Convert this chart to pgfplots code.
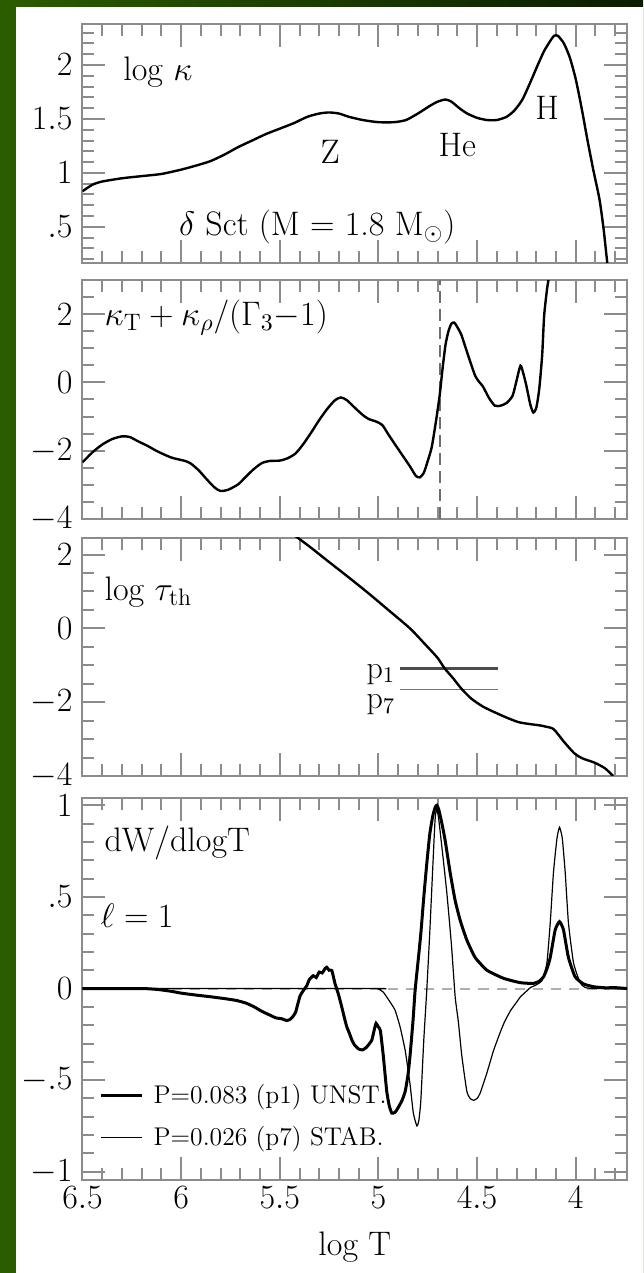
\RequirePackage{fix-cm}
\documentclass[border=0pt]{standalone}
\usepackage{fontspec}
\usepackage{pgfplots}
\pgfplotsset{compat=1.18}

\definecolor{bggreen}{RGB}{44,92,0}
\definecolor{bgdark}{RGB}{10,28,0}
\definecolor{framegray}{RGB}{140,140,140}
\definecolor{dashgray}{RGB}{175,175,175}
\definecolor{vdash}{RGB}{110,110,110}

\newcommand{\lblfont}{\fontsize{17}{20}\selectfont}
\newcommand{\plblfont}{\fontsize{16}{18}\selectfont}
\newcommand{\legfont}{\fontsize{12.8}{15}\selectfont}

\pgfplotsset{
  panel/.style={
    scale only axis,
    anchor=south west,
    width=272.25pt,
    x dir=reverse,
    xmin=3.74, xmax=6.5,
    xtick={4,4.5,5,5.5,6,6.5},
    minor xtick={3.8,3.9,4.1,4.2,4.3,4.4,4.6,4.7,4.8,4.9,5.1,5.2,5.3,5.4,5.6,5.7,5.8,5.9,6.1,6.2,6.3,6.4},
    tick align=inside,
    major tick length=11.5pt,
    minor tick length=6pt,
    axis line style={framegray, line width=1pt},
    tick style={framegray, line width=1pt},
    tick label style={font=\lblfont, black},
    yticklabel style={xshift=-1.5pt},
  },
  curve/.style={black, line width=1.2pt, smooth, tension=0.4},
}

\begin{document}
\begin{tikzpicture}
% page background and frame
\shade[left color=bggreen, right color=bgdark] (0,0) rectangle (321.5pt,636.5pt);
\fill[bggreen] (0,0) rectangle (8pt,636.5pt);
\fill[white] (8pt,0) rectangle (321.5pt,633pt);

% ---------------- opacity: log kappa ----------------
\begin{axis}[panel, at={(41.25pt,505pt)}, height=119.5pt,
  ymin=0.165, ymax=2.38,
  xticklabels={},
  ytick={0.5,1,1.5,2}, yticklabels={$.5$,$1$,$1.5$,$2$},
  minor ytick={0.2,0.3,0.4,0.6,0.7,0.8,0.9,1.1,1.2,1.3,1.4,1.6,1.7,1.8,1.9,2.1,2.2,2.3}]
\addplot[curve] coordinates {
(6.50,0.83) (6.45,0.89) (6.40,0.92) (6.30,0.95) (6.20,0.97) (6.10,0.99)
(6.00,1.03) (5.92,1.07) (5.85,1.11) (5.78,1.17) (5.71,1.24) (5.64,1.30)
(5.57,1.36) (5.50,1.41) (5.43,1.46) (5.36,1.52) (5.30,1.55) (5.25,1.56)
(5.20,1.55) (5.15,1.52) (5.08,1.49) (5.00,1.47) (4.92,1.47) (4.86,1.49)
(4.80,1.55) (4.74,1.62) (4.70,1.66) (4.66,1.68) (4.63,1.66) (4.59,1.60)
(4.55,1.55) (4.50,1.51) (4.45,1.49) (4.40,1.49) (4.35,1.52) (4.31,1.58)
(4.27,1.68) (4.23,1.84) (4.19,2.01) (4.16,2.13) (4.13,2.22) (4.11,2.27)
(4.09,2.27) (4.06,2.20) (4.03,2.07) (4.00,1.87) (3.97,1.60) (3.94,1.30)
(3.91,1.02) (3.88,0.76) (3.86,0.50) (3.845,0.25) (3.835,0.08)
};
\node[font=\lblfont, anchor=west, inner sep=0pt] at (axis cs:6.295,1.935) {log $\kappa$};
\node[font=\lblfont] at (axis cs:5.245,1.195) {Z};
\node[font=\lblfont] at (axis cs:4.60,1.26) {He};
\node[font=\lblfont] at (axis cs:4.145,1.60) {H};
\node[font=\lblfont] at (axis cs:5.31,0.50) {$\delta$ Sct (M = 1.8 M$_\odot$)};
\end{axis}

% ---------------- opacity derivative ----------------
\begin{axis}[panel, at={(41.25pt,377pt)}, height=119.5pt,
  ymin=-4, ymax=3,
  xticklabels={},
  ytick={-4,-2,0,2}, yticklabels={$-4$,$-2$,$0$,$2$},
  minor ytick={-3.5,-3,-2.5,-1.5,-1,-0.5,0.5,1,1.5,2.5}]
\addplot[vdash, line width=1pt, dash pattern=on 6pt off 3pt] coordinates {(4.69,-4) (4.69,3)};
\addplot[curve] coordinates {
(6.50,-2.34) (6.45,-2.05) (6.40,-1.82) (6.35,-1.66) (6.30,-1.58) (6.26,-1.60)
(6.22,-1.72) (6.17,-1.86) (6.12,-2.02) (6.05,-2.20) (5.98,-2.30) (5.95,-2.38)
(5.91,-2.58) (5.87,-2.84) (5.83,-3.08) (5.80,-3.18) (5.76,-3.14) (5.71,-2.98)
(5.67,-2.75) (5.63,-2.53) (5.59,-2.36) (5.55,-2.30) (5.50,-2.29) (5.46,-2.22)
(5.42,-2.08) (5.38,-1.80) (5.34,-1.46) (5.30,-1.10) (5.26,-0.78) (5.22,-0.52)
(5.19,-0.44) (5.16,-0.52) (5.12,-0.74) (5.08,-0.95) (5.05,-1.07) (5.01,-1.15)
(4.98,-1.25) (4.95,-1.52) (4.92,-1.78) (4.88,-2.12) (4.84,-2.46) (4.81,-2.74)
(4.79,-2.78) (4.77,-2.65) (4.75,-2.30) (4.73,-1.90) (4.71,-1.20) (4.69,-0.40)
(4.675,0.40) (4.66,1.10) (4.645,1.50) (4.63,1.72) (4.615,1.75) (4.60,1.62)
(4.58,1.40) (4.56,1.05) (4.54,0.70) (4.51,0.20) (4.49,0.02) (4.47,-0.12)
(4.44,-0.45) (4.41,-0.68) (4.38,-0.68) (4.35,-0.60) (4.32,-0.39) (4.30,0.05)
(4.28,0.49) (4.265,0.25) (4.25,-0.10) (4.23,-0.65) (4.215,-0.88) (4.20,-0.75)
(4.185,-0.20) (4.17,0.80) (4.16,1.95) (4.145,2.75) (4.135,3.10)
};
\node[font=\lblfont, anchor=west, inner sep=0pt] at (axis cs:6.39,1.89)
  {$\kappa_{\rm T} + \kappa_\rho/(\Gamma_3{-}1)$};
\end{axis}

% ---------------- thermal time scale ----------------
\begin{axis}[panel, at={(41.25pt,248.5pt)}, height=119pt,
  ymin=-4, ymax=2.45,
  xticklabels={},
  ytick={-4,-2,0,2}, yticklabels={$-4$,$-2$,$0$,$2$},
  minor ytick={-3.5,-3,-2.5,-1.5,-1,-0.5,0.5,1,1.5}]
\addplot[black!70, line width=1.5pt] coordinates {(4.892,-1.08) (4.393,-1.08)};
\addplot[black!55, line width=0.7pt] coordinates {(4.892,-1.65) (4.393,-1.65)};
\addplot[curve] coordinates {
(5.42,2.50) (5.34,2.18) (5.26,1.84) (5.15,1.38) (5.05,0.95) (4.95,0.50)
(4.84,0.00) (4.76,-0.45) (4.70,-0.80) (4.665,-1.08) (4.62,-1.36) (4.58,-1.63)
(4.53,-1.90) (4.47,-2.12) (4.40,-2.30) (4.34,-2.44) (4.29,-2.54) (4.237,-2.59)
(4.18,-2.63) (4.154,-2.66) (4.112,-2.73) (4.06,-3.07) (4.008,-3.38) (3.967,-3.52)
(3.904,-3.64) (3.852,-3.79) (3.81,-4.00)
};
\node[font=\lblfont, anchor=west, inner sep=0pt] at (axis cs:6.39,0.987) {log $\tau_{\rm th}$};
\node[font=\plblfont, anchor=east, inner sep=0pt] at (axis cs:4.913,-1.24) {p$_1$};
\node[font=\plblfont, anchor=east, inner sep=0pt] at (axis cs:4.913,-2.07) {p$_7$};
\end{axis}

% ---------------- work integrand ----------------
\begin{axis}[panel, at={(41.25pt,46.5pt)}, height=191pt,
  ymin=-1.045, ymax=1.04,
  ytick={-1,-0.5,0,0.5,1}, yticklabels={$-1$,$-.5$,$0$,$.5$,$1$},
  xticklabels={$4$,$4.5$,$5$,$5.5$,$6$,$6.5$},
  minor ytick={-0.9,-0.8,-0.7,-0.6,-0.4,-0.3,-0.2,-0.1,0.1,0.2,0.3,0.4,0.6,0.7,0.8,0.9},
  xlabel={log T},
  xlabel style={font=\lblfont, at={(axis description cs:0.5,0)}, anchor=center, yshift=-33.5pt},
  legend style={at={(axis cs:6.415,-0.50)}, anchor=north west, draw=none, fill=none,
    font=\legfont, row sep=6pt, column sep=3pt, inner sep=0pt},
  legend cell align=left,
  legend image code/.code={\draw[#1] (0pt,0pt) -- (20.5pt,0pt);}]
\addplot[dashgray, line width=1pt, dash pattern=on 5pt off 4pt, forget plot] coordinates {(6.5,0) (3.74,0)};
\addplot[black, line width=1.5pt, smooth, tension=0.3] coordinates {
(6.50,0.0) (6.20,0.0) (6.12,-0.005) (6.05,-0.015) (6.00,-0.025) (5.93,-0.035)
(5.85,-0.045) (5.78,-0.055) (5.72,-0.065) (5.67,-0.08) (5.63,-0.10) (5.59,-0.125)
(5.55,-0.145) (5.52,-0.16) (5.49,-0.165) (5.465,-0.175) (5.45,-0.17) (5.435,-0.155)
(5.42,-0.13) (5.41,-0.09) (5.397,-0.04) (5.38,-0.01) (5.363,0.016) (5.35,0.05)
(5.33,0.07) (5.315,0.06) (5.30,0.09) (5.285,0.085) (5.27,0.11) (5.262,0.116)
(5.25,0.10) (5.236,0.098) (5.22,0.027) (5.203,-0.03) (5.186,-0.10) (5.17,-0.17)
(5.16,-0.21) (5.145,-0.25) (5.135,-0.28) (5.12,-0.31) (5.10,-0.33) (5.08,-0.335)
(5.06,-0.32) (5.045,-0.30) (5.033,-0.28) (5.02,-0.22) (5.012,-0.19) (5.00,-0.21)
(4.99,-0.23) (4.975,-0.37) (4.958,-0.56) (4.945,-0.64) (4.932,-0.68) (4.915,-0.675)
(4.90,-0.65) (4.88,-0.61) (4.864,-0.56) (4.85,-0.47) (4.84,-0.37) (4.825,-0.18)
(4.814,-0.01) (4.797,0.17) (4.785,0.30) (4.77,0.50) (4.755,0.68) (4.74,0.84)
(4.725,0.94) (4.712,0.99) (4.704,1.00) (4.695,0.98) (4.68,0.91) (4.662,0.81)
(4.636,0.63) (4.611,0.48) (4.585,0.37) (4.552,0.265) (4.51,0.17) (4.45,0.10)
(4.366,0.056) (4.281,0.032) (4.214,0.028) (4.185,0.04) (4.163,0.064) (4.145,0.11)
(4.129,0.17) (4.104,0.32) (4.082,0.365) (4.062,0.32) (4.037,0.17) (4.003,0.064)
(3.96,0.025) (3.91,0.01) (3.85,0.004) (3.80,0.005) (3.74,0.0)
};
\addlegendentry{P=0.083 (p1) UNST.}
\addplot[black, line width=0.6pt, smooth, tension=0.3] coordinates {
(6.50,0.0) (5.02,0.0) (5.00,-0.003) (4.975,-0.02) (4.94,-0.075) (4.915,-0.12)
(4.89,-0.21) (4.864,-0.34) (4.84,-0.52) (4.823,-0.68) (4.805,-0.75) (4.795,-0.72)
(4.785,-0.61) (4.77,-0.28) (4.755,-0.01) (4.74,0.30) (4.725,0.65) (4.713,0.92)
(4.705,0.98) (4.695,0.93) (4.675,0.74) (4.653,0.52) (4.63,0.24)
(4.611,-0.045) (4.595,-0.18) (4.577,-0.37) (4.552,-0.56) (4.535,-0.60) (4.518,-0.61)
(4.50,-0.60) (4.484,-0.57) (4.45,-0.46) (4.417,-0.34) (4.383,-0.24) (4.36,-0.18)
(4.33,-0.12) (4.30,-0.075) (4.28,-0.045) (4.25,-0.015) (4.23,0.005) (4.20,0.02)
(4.17,0.045) (4.146,0.14) (4.129,0.36) (4.113,0.63) (4.095,0.82) (4.082,0.88)
(4.068,0.82) (4.053,0.63) (4.037,0.36) (4.011,0.14) (3.977,0.03) (3.95,0.005)
(3.90,0.0) (3.74,0.0)
};
\addlegendentry{P=0.026 (p7) STAB.}
\node[font=\lblfont, anchor=west, inner sep=0pt] at (axis cs:6.39,0.795) {dW/dlogT};
\node[font=\lblfont, anchor=west, inner sep=0pt] at (axis cs:6.41,0.40) {$\ell = 1$};
\end{axis}
\pgfresetboundingbox
\useasboundingbox (0,0) rectangle (321.5pt,636.5pt);
\end{tikzpicture}
\end{document}
